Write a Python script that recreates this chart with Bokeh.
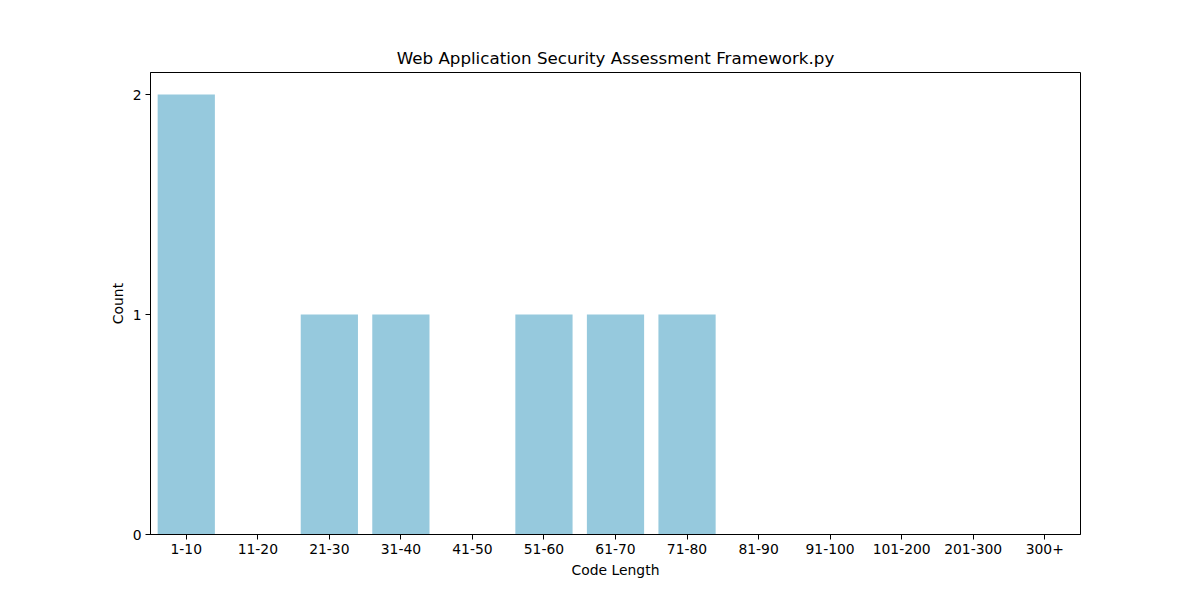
from bokeh.plotting import figure
from bokeh.models import Range1d, FactorRange, FixedTicker, ColumnDataSource
from bokeh.embed import file_html
from bokeh.resources import INLINE

categories = ["1-10", "11-20", "21-30", "31-40", "41-50", "51-60", "61-70",
              "71-80", "81-90", "91-100", "101-200", "201-300", "300+"]
counts = [2, 0, 1, 1, 0, 1, 1, 1, 0, 0, 0, 0, 0]

FONT = "DejaVu Sans"

src = ColumnDataSource(data=dict(cat=categories, cnt=counts))

p = figure(width=1200, height=600, output_backend="svg", toolbar_location=None,
           x_range=FactorRange(*categories), y_range=Range1d(0, 2.1),
           title="Web Application Security Assessment Framework.py",
           min_border_left=150, min_border_right=120, min_border_top=72,
           min_border_bottom=66)

p.vbar(x="cat", top="cnt", width=0.8, source=src, color="#96c9dd", line_color=None)

p.title.text_font = FONT
p.title.text_font_size = "16.7px"
p.title.text_font_style = "normal"
p.title.align = "center"
p.title.text_color = "black"
p.title.offset = 0
p.title.standoff = 9

p.outline_line_color = "black"
p.outline_line_width = 1
p.outline_line_alpha = 1
p.xgrid.visible = False
p.ygrid.visible = False
p.background_fill_color = "white"
p.border_fill_color = "white"

p.yaxis.ticker = FixedTicker(ticks=[0, 1, 2])
for ax in (p.xaxis[0], p.yaxis[0]):
    ax.major_label_text_font = FONT
    ax.major_label_text_font_size = "13.9px"
    ax.major_label_text_color = "black"
    ax.axis_label_text_font = FONT
    ax.axis_label_text_font_size = "13.9px"
    ax.axis_label_text_font_style = "normal"
    ax.axis_label_text_color = "black"
    ax.major_tick_out = 5
    ax.major_tick_in = 0
    ax.minor_tick_out = 0
    ax.minor_tick_in = 0
    ax.axis_line_color = "black"
    ax.major_tick_line_color = "black"
    ax.major_label_standoff = 4

p.xaxis.axis_label = "Code Length"
p.yaxis.axis_label = "Count"
p.xaxis.axis_label_standoff = 5
p.yaxis.axis_label_standoff = 4

open("out.html", "w").write(file_html(p, INLINE))
